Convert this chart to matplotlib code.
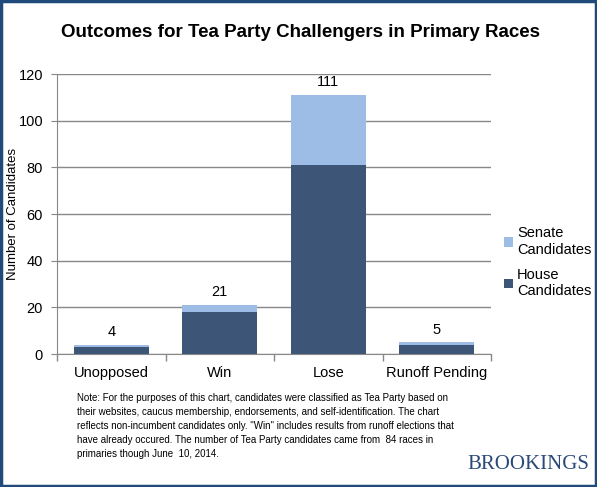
import matplotlib.pyplot as plt
from matplotlib.patches import Rectangle

# chart data
categories = ["Unopposed", "Win", "Lose", "Runoff Pending"]
house = [3, 18, 81, 4]
senate = [1, 3, 30, 1]
totals = [4, 21, 111, 5]

house_color = "#3D5677"
senate_color = "#9DBDE6"
frame_color = "#1F4A7A"

fig = plt.figure(figsize=(5.97, 4.87), dpi=100)
ax = fig.add_axes([0.0955, 0.273, 0.727, 0.575])

x = range(len(categories))
ax.bar(x, house, width=0.69, color=house_color, label="House\nCandidates", zorder=3)
ax.bar(x, senate, width=0.69, bottom=house, color=senate_color,
       label="Senate\nCandidates", zorder=3)

for i, t in enumerate(totals):
    ax.text(i, t + 2.5, str(t), ha="center", va="bottom", fontsize=10.5,
            family="Liberation Sans")

ax.set_xlim(-0.5, len(categories) - 0.5)
ax.set_ylim(0, 120)
ax.set_yticks(range(0, 121, 20))
ax.yaxis.grid(True, color="#888888", linewidth=1, zorder=0)
ax.set_axisbelow(True)

# x ticks at category boundaries, labels centered
ax.set_xticks([i + 0.5 for i in range(len(categories) - 1)] + [-0.5, len(categories) - 0.5])
ax.set_xticklabels([])
ax.tick_params(axis="x", length=5, color="#888888", width=1)
for i, c in enumerate(categories):
    ax.text(i, -5, c, ha="center", va="top", fontsize=10.5, family="Liberation Sans",
            transform=ax.transData)
ax.tick_params(axis="y", length=4, color="#888888", labelsize=10.5, pad=6)
for lbl in ax.get_yticklabels():
    lbl.set_family("Liberation Sans")

for s in ["top", "right"]:
    ax.spines[s].set_visible(False)
ax.spines["left"].set_color("#888888")
ax.spines["bottom"].set_color("#888888")

fig.text(0.022, 0.56, "Number of Candidates", rotation=90, ha="center", va="center",
         fontsize=9.5, family="Liberation Sans")

handles, labels = ax.get_legend_handles_labels()
leg = fig.legend(handles[::-1], labels[::-1], loc="upper left",
                 bbox_to_anchor=(0.822, 0.562), frameon=False,
                 prop={"family": "Liberation Sans", "size": 10.5},
                 handlelength=0.6, handleheight=0.6, handletextpad=0.3,
                 labelspacing=0.8)

fig.text(0.503, 0.933, "Outcomes for Tea Party Challengers in Primary Races",
         ha="center", va="center", fontsize=13.5, fontweight="bold",
         family="Liberation Sans")

note = ("Note: For the purposes of this chart, candidates were classified as Tea Party based on\n"
        "their websites, caucus membership, endorsements, and self-identification. The chart\n"
        "reflects non-incumbent candidates only. \"Win\" includes results from runoff elections that\n"
        "have already occured. The number of Tea Party candidates came from  84 races in\n"
        "primaries though June  10, 2014.")
fig.text(0.129, 0.194, note, ha="left", va="top", fontsize=7.05,
         family="Liberation Sans", linespacing=1.5)

fig.text(0.987, 0.036, "BROOKINGS", ha="right", va="baseline", fontsize=15,
         family="Liberation Serif", color="#2B4A78")

fig.patches.append(Rectangle((0.002, 0.002), 0.996, 0.996, transform=fig.transFigure,
                             fill=False, edgecolor=frame_color, linewidth=2.5))

fig.savefig("out.png", dpi=100)
